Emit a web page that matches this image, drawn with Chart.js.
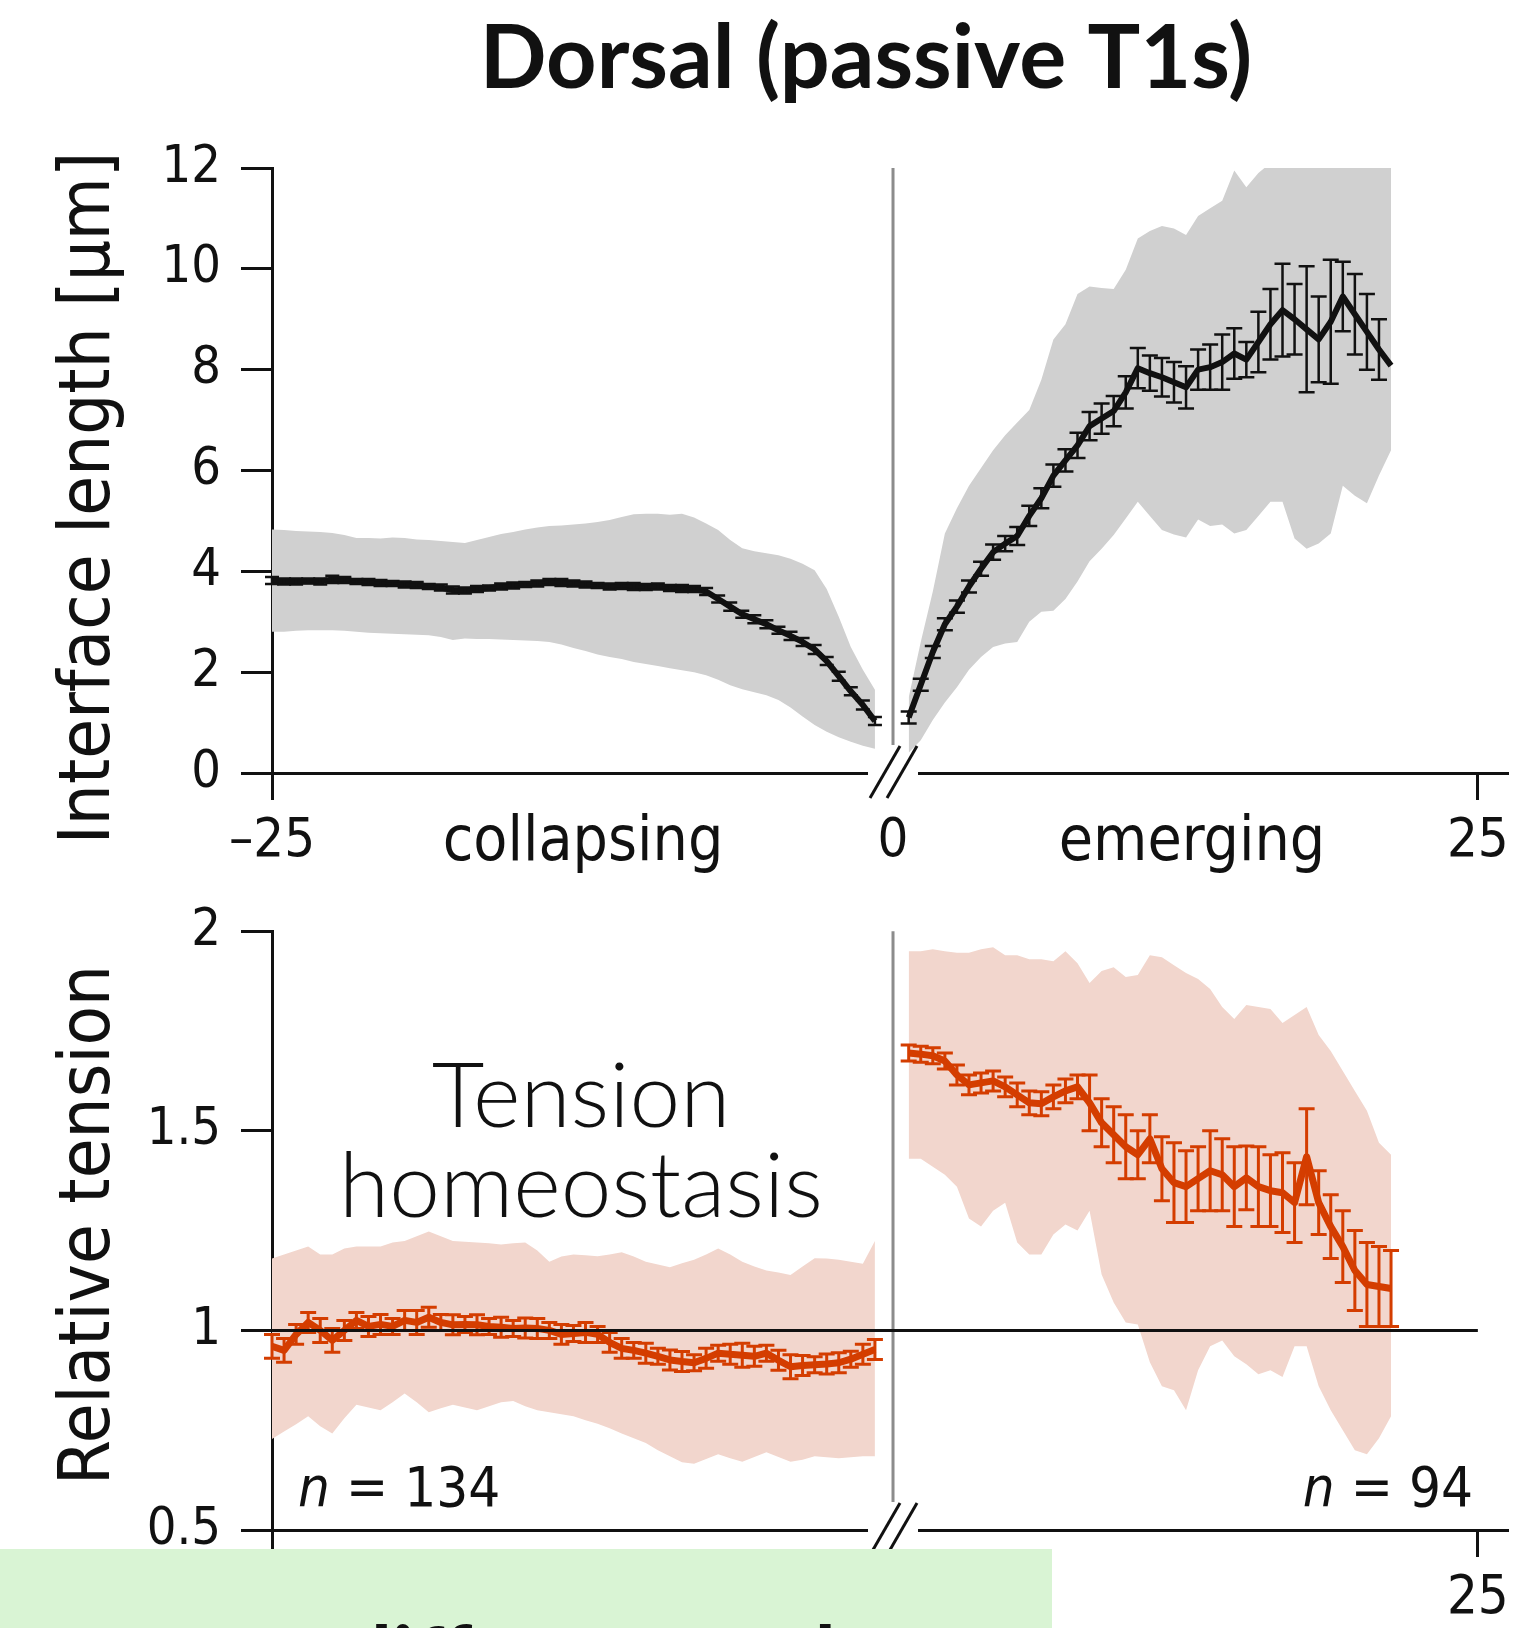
<!DOCTYPE html>
<html>
<head>
<meta charset="utf-8">
<title>Dorsal (passive T1s)</title>
<script src="https://cdn.jsdelivr.net/npm/chart.js"></script>
<style>
  body { margin: 0; background: #fff; }
  #page { position: relative; width: 1536px; height: 1628px; overflow: hidden; background: #fff; }
  #lenChart { position: absolute; left: 0; top: 0; }
  #tenChart { position: absolute; left: 0; top: 880px; }
</style>
</head>
<body>
<div id="page">
  <canvas id="lenChart" width="1536" height="900"></canvas>
  <canvas id="tenChart" width="1536" height="748"></canvas>
</div>
<script>
// time relative to the T1 event (collapsing side / emerging side)
const tLeft = [-25, -24.5, -24, -23.5, -23, -22.5, -22, -21.5, -21, -20.5, -20, -19.5, -19, -18.5, -18, -17.5, -17,
  -16.5, -16, -15.5, -15, -14.5, -14, -13.5, -13, -12.5, -12, -11.5, -11, -10.5, -10, -9.5, -9, -8.5, -8, -7.5, -7,
  -6.5, -6, -5.5, -5, -4.5, -4, -3.5, -3, -2.5, -2, -1.5, -1, -0.5, 0];
const tRight = [1.4, 1.9, 2.4, 2.9, 3.4, 3.9, 4.4, 4.9, 5.4, 5.9, 6.4, 6.9, 7.4, 7.9, 8.4, 8.9, 9.4, 9.9, 10.4, 10.9,
  11.4, 11.9, 12.4, 12.9, 13.4, 13.9, 14.4, 14.9, 15.4, 15.9, 16.4, 16.9, 17.4, 17.9, 18.4, 18.9, 19.4, 19.9, 20.4,
  20.9, 21.4];

// interface length [µm]: mean, sem, mean +/- sd
const lenLeft = [3.82, 3.80, 3.80, 3.81, 3.80, 3.84, 3.83, 3.80, 3.79, 3.77, 3.76, 3.74, 3.73, 3.70, 3.68, 3.63, 3.62,
  3.65, 3.67, 3.70, 3.72, 3.74, 3.76, 3.79, 3.78, 3.76, 3.74, 3.72, 3.70, 3.71, 3.70, 3.69, 3.70, 3.67, 3.66, 3.65,
  3.60, 3.45, 3.30, 3.15, 3.05, 2.95, 2.83, 2.72, 2.60, 2.45, 2.22, 1.92, 1.62, 1.35, 1.03];
const lenLeftErr = [0.07, 0.06, 0.06, 0.05, 0.06, 0.07, 0.06, 0.05, 0.06, 0.06, 0.05, 0.06, 0.06, 0.05, 0.06, 0.07,
  0.06, 0.06, 0.05, 0.06, 0.06, 0.05, 0.06, 0.06, 0.07, 0.06, 0.06, 0.05, 0.06, 0.06, 0.07, 0.06, 0.06, 0.06, 0.07,
  0.06, 0.07, 0.07, 0.08, 0.07, 0.08, 0.08, 0.07, 0.08, 0.08, 0.09, 0.08, 0.09, 0.08, 0.09, 0.08];
const lenLeftHi = [4.83, 4.82, 4.80, 4.79, 4.78, 4.76, 4.72, 4.66, 4.66, 4.65, 4.67, 4.66, 4.63, 4.62, 4.60, 4.58,
  4.56, 4.62, 4.68, 4.74, 4.78, 4.83, 4.87, 4.90, 4.91, 4.93, 4.95, 4.98, 5.02, 5.08, 5.13, 5.14, 5.14, 5.12, 5.14,
  5.07, 4.95, 4.82, 4.62, 4.46, 4.40, 4.36, 4.32, 4.25, 4.15, 4.02, 3.65, 3.10, 2.50, 2.05, 1.65];
const lenLeftLo = [2.80, 2.80, 2.82, 2.83, 2.83, 2.83, 2.82, 2.80, 2.78, 2.77, 2.76, 2.75, 2.74, 2.73, 2.70, 2.64,
  2.67, 2.66, 2.66, 2.65, 2.64, 2.63, 2.62, 2.60, 2.55, 2.48, 2.42, 2.35, 2.30, 2.26, 2.20, 2.16, 2.12, 2.08, 2.04,
  2.00, 1.94, 1.85, 1.74, 1.66, 1.60, 1.54, 1.45, 1.30, 1.12, 0.95, 0.82, 0.71, 0.62, 0.54, 0.48];

const lenRight = [1.10, 1.75, 2.40, 2.95, 3.30, 3.70, 4.05, 4.38, 4.55, 4.70, 5.10, 5.45, 5.90, 6.20, 6.50, 6.88,
  7.03, 7.18, 7.55, 8.03, 7.93, 7.85, 7.75, 7.65, 8.00, 8.05, 8.15, 8.32, 8.20, 8.55, 8.90, 9.18, 9.00, 8.80, 8.60,
  8.95, 9.45, 9.10, 8.75, 8.40, 8.08];
const lenRightErr = [0.12, 0.12, 0.12, 0.12, 0.12, 0.12, 0.14, 0.15, 0.15, 0.18, 0.2, 0.2, 0.22, 0.22, 0.25, 0.28,
  0.3, 0.3, 0.32, 0.4, 0.35, 0.38, 0.4, 0.42, 0.4, 0.45, 0.55, 0.5, 0.35, 0.6, 0.7, 0.92, 0.7, 1.25, 0.85, 1.23, 0.69,
  0.8, 0.75, 0.6, 0];
const lenRightHi = [1.5, 2.6, 3.6, 4.75, 5.25, 5.7, 6.05, 6.4, 6.7, 6.95, 7.2, 7.8, 8.6, 8.9, 9.5, 9.65, 9.62, 9.6,
  9.98, 10.6, 10.75, 10.85, 10.8, 10.67, 11.05, 11.2, 11.35, 11.95, 11.62, 11.9, 12.1, 12.1, 12.1, 12.1, 12.1, 12.1,
  12.1, 12.1, 12.1, 12.1, 12.1];
const lenRightLo = [0.4, 0.65, 1.05, 1.4, 1.7, 2.05, 2.3, 2.5, 2.57, 2.6, 3.0, 3.2, 3.22, 3.45, 3.8, 4.2, 4.45, 4.72,
  5.05, 5.38, 5.1, 4.82, 4.73, 4.67, 5.03, 4.9, 4.93, 4.75, 4.82, 5.1, 5.38, 5.38, 4.65, 4.45, 4.55, 4.75, 5.7, 5.5,
  5.35, 5.9, 6.4];

// relative tension: mean, sem, mean +/- sd
const tenLeft = [0.96, 0.95, 0.99, 1.02, 1.00, 0.975, 1.0, 1.025, 1.01, 1.015, 1.01, 1.025, 1.02, 1.033, 1.02, 1.014,
  1.015, 1.014, 1.01, 1.008, 1.005, 1.006, 1.005, 1.0, 0.99, 0.992, 0.995, 0.99, 0.97, 0.955, 0.95, 0.943, 0.935,
  0.926, 0.922, 0.919, 0.93, 0.943, 0.94, 0.938, 0.935, 0.943, 0.925, 0.909, 0.912, 0.914, 0.916, 0.919, 0.928, 0.94,
  0.952];
const tenLeftErr = [0.03, 0.03, 0.025, 0.025, 0.03, 0.03, 0.025, 0.02, 0.025, 0.025, 0.02, 0.025, 0.03, 0.025, 0.02,
  0.025, 0.02, 0.025, 0.02, 0.025, 0.02, 0.025, 0.025, 0.02, 0.025, 0.02, 0.025, 0.02, 0.025, 0.025, 0.02, 0.025, 0.02,
  0.025, 0.025, 0.02, 0.025, 0.02, 0.025, 0.03, 0.025, 0.02, 0.025, 0.03, 0.025, 0.02, 0.025, 0.025, 0.02, 0.025,
  0.025];
const tenLeftHi = [1.18, 1.19, 1.20, 1.21, 1.19, 1.19, 1.205, 1.21, 1.21, 1.21, 1.22, 1.224, 1.236, 1.248, 1.236,
  1.224, 1.222, 1.22, 1.218, 1.215, 1.218, 1.22, 1.2, 1.172, 1.185, 1.19, 1.188, 1.186, 1.19, 1.196, 1.185, 1.172,
  1.165, 1.158, 1.168, 1.177, 1.19, 1.205, 1.19, 1.172, 1.16, 1.15, 1.145, 1.139, 1.16, 1.181, 1.18, 1.177, 1.172,
  1.167, 1.224];
const tenLeftLo = [0.728, 0.747, 0.765, 0.785, 0.76, 0.742, 0.78, 0.814, 0.807, 0.80, 0.82, 0.842, 0.82, 0.795, 0.805,
  0.814, 0.807, 0.80, 0.81, 0.82, 0.823, 0.81, 0.80, 0.795, 0.79, 0.785, 0.775, 0.766, 0.755, 0.742, 0.73, 0.718, 0.70,
  0.685, 0.67, 0.666, 0.678, 0.69, 0.68, 0.671, 0.683, 0.695, 0.683, 0.671, 0.676, 0.685, 0.682, 0.68, 0.682, 0.685,
  0.685];

const tenRight = [1.695, 1.692, 1.688, 1.675, 1.64, 1.615, 1.62, 1.625, 1.61, 1.59, 1.57, 1.568, 1.585, 1.6, 1.61,
  1.57, 1.52, 1.49, 1.46, 1.44, 1.48, 1.405, 1.37, 1.36, 1.38, 1.40, 1.39, 1.36, 1.382, 1.36, 1.35, 1.345, 1.32, 1.435,
  1.32, 1.26, 1.21, 1.15, 1.115, 1.11, 1.105];
const tenRightErr = [0.02, 0.02, 0.02, 0.02, 0.025, 0.025, 0.025, 0.025, 0.025, 0.03, 0.03, 0.03, 0.03, 0.03, 0.03,
  0.07, 0.06, 0.07, 0.08, 0.06, 0.06, 0.08, 0.1, 0.09, 0.08, 0.1, 0.09, 0.1, 0.08, 0.1, 0.09, 0.1, 0.1, 0.12, 0.08,
  0.08, 0.09, 0.1, 0.105, 0.1, 0.095];
const tenRightHi = [1.95, 1.95, 1.955, 1.95, 1.946, 1.946, 1.955, 1.96, 1.94, 1.94, 1.93, 1.93, 1.925, 1.95, 1.92,
  1.87, 1.9, 1.91, 1.885, 1.89, 1.94, 1.935, 1.915, 1.895, 1.88, 1.855, 1.81, 1.78, 1.815, 1.81, 1.805, 1.77, 1.79,
  1.81, 1.74, 1.7, 1.65, 1.6, 1.55, 1.47, 1.44];
const tenRightLo = [1.43, 1.43, 1.41, 1.39, 1.36, 1.28, 1.26, 1.3, 1.32, 1.22, 1.19, 1.19, 1.24, 1.265, 1.25, 1.3,
  1.14, 1.07, 1.02, 1.015, 0.92, 0.86, 0.85, 0.8, 0.9, 0.96, 0.975, 0.935, 0.915, 0.89, 0.9, 0.883, 0.96, 0.96, 0.86,
  0.8, 0.75, 0.7, 0.69, 0.73, 0.785];

const xTickValues = [-25, 0, 25];
const lenTicks = [0, 2, 4, 6, 8, 10, 12];
const tenTicks = [0.5, 1, 1.5, 2];
const nLeft = 134, nRight = 94;

// ---- styling / geometry ----
const BREAK_X = 0.75;            // the axis break, where "0" is printed
const SANS = "'DejaVu Sans Condensed', 'DejaVu Sans', sans-serif";
const INK = '#111';
const RED = '#d43d00';

const pts = (xs, ys) => xs.map((x, i) => ({x, y: ys[i]}));

function lineSet(xs, ys, errs, color, width, cap, errW) {
  return {data: pts(xs, ys), borderColor: color, borderWidth: width, pointRadius: 0, tension: 0,
    borderJoinStyle: 'round', fill: false, errors: errs, capHalf: cap, errWidth: errW};
}
function bandSets(xs, hi, lo, color) {
  return [
    {data: pts(xs, hi), borderWidth: 0, pointRadius: 0, fill: false, clip: 6},
    {data: pts(xs, lo), borderWidth: 0, pointRadius: 0, fill: '-1', backgroundColor: color, clip: 6}
  ];
}

function xAxis(h) {
  return {
    type: 'linear', min: -25, max: 26.25,
    afterFit: s => { s.height = h; },
    afterBuildTicks: s => { s.ticks = xTickValues.map(v => ({value: v === 0 ? BREAK_X : v})); },
    ticks: {
      autoSkip: false, maxRotation: 0, color: INK, padding: 10,
      font: {family: SANS, size: 54},
      callback: v => v === BREAK_X ? '0' : (v < 0 ? '\u2013' + (-v) : String(v))
    },
    grid: {drawOnChartArea: false, tickLength: 27, tickWidth: 3,
      tickColor: c => (c.tick && c.tick.value === BREAK_X) ? 'rgba(0,0,0,0)' : INK},
    border: {width: 3, color: INK}
  };
}
function yAxis(min, max, ticks) {
  return {
    min, max,
    afterFit: s => { s.width = 200; },
    afterBuildTicks: s => { s.ticks = ticks.map(v => ({value: v})); },
    ticks: {color: INK, padding: 20, font: {family: SANS, size: 52}, callback: v => String(v)},
    grid: {drawOnChartArea: false, tickLength: 31, tickWidth: 3, tickColor: INK},
    border: {width: 3, color: INK}
  };
}

function text(ctx, s, x, y, font, align, rot) {
  ctx.save();
  ctx.translate(x, y);
  if (rot) ctx.rotate(rot);
  ctx.font = font;
  ctx.fillStyle = INK;
  ctx.textAlign = align || 'center';
  ctx.textBaseline = 'alphabetic';
  ctx.fillText(s, 0, 0);
  ctx.restore();
}

// zero line, error bars, reference line, axis break and labels
const decor = {
  id: 'decor',
  beforeDatasetsDraw(chart) {
    const {ctx, chartArea: a, scales: {x}} = chart;
    const bx = x.getPixelForValue(BREAK_X);
    ctx.save();
    ctx.strokeStyle = '#8c8c8c';
    ctx.lineWidth = 3;
    ctx.beginPath();
    ctx.moveTo(bx, a.top);
    ctx.lineTo(bx, a.bottom - 28);
    ctx.stroke();
    ctx.restore();
  },
  afterDatasetsDraw(chart, args, opts) {
    const {ctx, scales: {x, y}} = chart;
    chart.data.datasets.forEach(ds => {
      if (!ds.errors) return;
      ctx.save();
      ctx.strokeStyle = ds.borderColor;
      ctx.lineWidth = ds.errWidth;
      ds.data.forEach((p, i) => {
        const e = ds.errors[i];
        if (!e) return;
        const px = x.getPixelForValue(p.x);
        const y0 = y.getPixelForValue(p.y - e), y1 = y.getPixelForValue(p.y + e);
        ctx.beginPath();
        ctx.moveTo(px, y0); ctx.lineTo(px, y1);
        ctx.moveTo(px - ds.capHalf, y0); ctx.lineTo(px + ds.capHalf, y0);
        ctx.moveTo(px - ds.capHalf, y1); ctx.lineTo(px + ds.capHalf, y1);
        ctx.stroke();
      });
      ctx.restore();
    });
    if (opts.refLine != null) {
      const ry = y.getPixelForValue(opts.refLine);
      ctx.save();
      ctx.strokeStyle = INK;
      ctx.lineWidth = 3;
      ctx.beginPath();
      ctx.moveTo(x.getPixelForValue(-25), ry);
      ctx.lineTo(x.getPixelForValue(25), ry);
      ctx.stroke();
      ctx.restore();
    }
  },
  afterDraw(chart, args, opts) {
    const {ctx, chartArea: a, scales: {x}} = chart;
    const bx = x.getPixelForValue(BREAK_X), ay = a.bottom;
    ctx.save();
    ctx.fillStyle = '#fff';
    ctx.fillRect(bx - 25, ay - 4, 50, 8);
    ctx.strokeStyle = INK;
    ctx.lineWidth = 3;
    [[-23, 7], [-6, 24]].forEach(([u, v]) => {
      ctx.beginPath();
      ctx.moveTo(bx + u, ay + 25);
      ctx.lineTo(bx + v, ay - 27);
      ctx.stroke();
    });
    ctx.restore();
    if (opts.labels) opts.labels(ctx);
  }
};

function base(yScale, decorOpts, padTop, padBottom) {
  return {
    responsive: false, animation: false, devicePixelRatio: 1,
    layout: {padding: {left: 72, right: 28, top: padTop, bottom: padBottom}},
    plugins: {legend: {display: false}, tooltip: {enabled: false}, decor: decorOpts},
    scales: {x: xAxis(padBottom === 27 ? 100 : 90), y: yScale}
  };
}

new Chart(document.getElementById('lenChart'), {
  type: 'line',
  data: {datasets: [
    lineSet(tLeft, lenLeft, lenLeftErr, INK, 6, 7, 2.5),
    lineSet(tRight, lenRight, lenRightErr, INK, 6, 8, 2.5),
    ...bandSets(tLeft, lenLeftHi, lenLeftLo, '#d0d0d0'),
    ...bandSets(tRight, lenRightHi, lenRightLo, '#d0d0d0')
  ]},
  options: base(yAxis(0, 12, lenTicks), {
    labels: ctx => {
      text(ctx, 'Dorsal (passive T1s)', 866, 88, '700 88px Lato, sans-serif');
      text(ctx, 'Interface length [\u00b5m]', 109, 498, '72px ' + SANS, 'center', -Math.PI / 2);
      text(ctx, 'collapsing', 583, 860, '62px ' + SANS);
      text(ctx, 'emerging', 1192, 860, '62px ' + SANS);
    }
  }, 168, 27),
  plugins: [decor]
});

new Chart(document.getElementById('tenChart'), {
  type: 'line',
  data: {datasets: [
    lineSet(tLeft, tenLeft, tenLeftErr, RED, 7, 8, 3),
    lineSet(tRight, tenRight, tenRightErr, RED, 7, 8, 3),
    ...bandSets(tLeft, tenLeftHi, tenLeftLo, '#f2d6cd'),
    ...bandSets(tRight, tenRightHi, tenRightLo, '#f2d6cd')
  ]},
  options: base(yAxis(0.5, 2, tenTicks), {
    refLine: 1,
    labels: ctx => {
      text(ctx, 'Relative tension', 109, 345, '72px ' + SANS, 'center', -Math.PI / 2);
      text(ctx, 'Tension', 581, 247, '300 91px Lato, sans-serif');
      text(ctx, 'homeostasis', 581, 337, '300 91px Lato, sans-serif');
      const f = '56px ' + SANS, fi = 'italic 56px ' + SANS;
      ctx.font = fi;
      const wn = ctx.measureText('n').width;
      text(ctx, 'n', 298, 626, fi, 'left');
      text(ctx, ' = ' + nLeft, 298 + wn, 626, f, 'left');
      ctx.font = f;
      const wr = ctx.measureText(' = ' + nRight).width;
      text(ctx, ' = ' + nRight, 1473, 626, f, 'right');
      text(ctx, 'n', 1473 - wr, 626, fi, 'right');
      // the slide's caption box that covers the lower-left corner
      ctx.save();
      ctx.fillStyle = '#d9f4d4';
      ctx.fillRect(0, 669, 1052, 79);
      ctx.beginPath();
      ctx.rect(0, 669, 1052, 79);
      ctx.clip();
      const cf = '700 86px Lato, sans-serif';
      ctx.font = cf;
      const x0 = 392 - ctx.measureText('are d').width;
      text(ctx, 'are different and', x0, 808, cf, 'left');
      ctx.restore();
    }
  }, 49, 8),
  plugins: [decor]
});
</script>
</body>
</html>
